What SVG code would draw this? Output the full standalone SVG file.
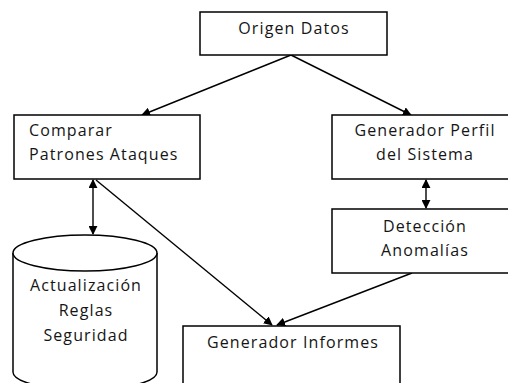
<svg xmlns="http://www.w3.org/2000/svg" width="508" height="383" viewBox="0 0 508 383">
  <defs>
    <marker id="arrow" viewBox="0 0 10 10" refX="9" refY="5" markerWidth="9" markerHeight="9" markerUnits="userSpaceOnUse" orient="auto-start-reverse">
      <path d="M0,0 L10,5 L0,10 Z" fill="#000"/>
    </marker>
  </defs>
  <style>
    .box { fill: #fff; stroke: #000; stroke-width: 1.5; }
    .lbl { font-family: "Open Sans", "Liberation Sans", sans-serif; font-size: 16px; font-weight: 500; fill: #151515; letter-spacing: 1.1px; }
    .mid { text-anchor: middle; }
    .edge { stroke: #000; stroke-width: 1.4; fill: none; marker-end: url(#arrow); }
    .both { marker-start: url(#arrow); }
  </style>
  <rect width="508" height="383" fill="#fff"/>

  <g id="connectors">
    <line class="edge" x1="291" y1="55" x2="142" y2="115"/>
    <line class="edge" x1="291" y1="55" x2="411" y2="115"/>
    <line class="edge both" x1="93" y1="180" x2="93" y2="234"/>
    <line class="edge both" x1="426" y1="180" x2="426" y2="208"/>
    <line class="edge" x1="96" y1="180" x2="272" y2="325"/>
    <line class="edge" x1="412" y1="273" x2="277" y2="325"/>
  </g>

  <g id="origen-datos">
    <rect class="box" x="200" y="12" width="187" height="43"/>
    <text class="lbl mid" x="294" y="34">Origen Datos</text>
  </g>

  <g id="comparar-patrones">
    <rect class="box" x="14" y="115" width="186" height="64"/>
    <text class="lbl" x="29" y="136">Comparar</text>
    <text class="lbl" x="29" y="160">Patrones Ataques</text>
  </g>

  <g id="generador-perfil">
    <rect class="box" x="332" y="115" width="190" height="64"/>
    <text class="lbl mid" x="425" y="136">Generador Perfil</text>
    <text class="lbl mid" x="425" y="160">del Sistema</text>
  </g>

  <g id="deteccion-anomalias">
    <rect class="box" x="332" y="209" width="190" height="64"/>
    <text class="lbl mid" x="425" y="232">Detección</text>
    <text class="lbl mid" x="425" y="256">Anomalías</text>
  </g>

  <g id="actualizacion-reglas">
    <path class="box" d="M13,253 L13,372 A72,18 0 0 0 157,372 L157,253"/>
    <ellipse class="box" cx="85" cy="253" rx="72" ry="18"/>
    <text class="lbl mid" x="86" y="291">Actualización</text>
    <text class="lbl mid" x="86" y="316">Reglas</text>
    <text class="lbl mid" x="86" y="341">Seguridad</text>
  </g>

  <g id="generador-informes">
    <rect class="box" x="183" y="326" width="217" height="70"/>
    <text class="lbl mid" x="293" y="348">Generador Informes</text>
  </g>
</svg>
